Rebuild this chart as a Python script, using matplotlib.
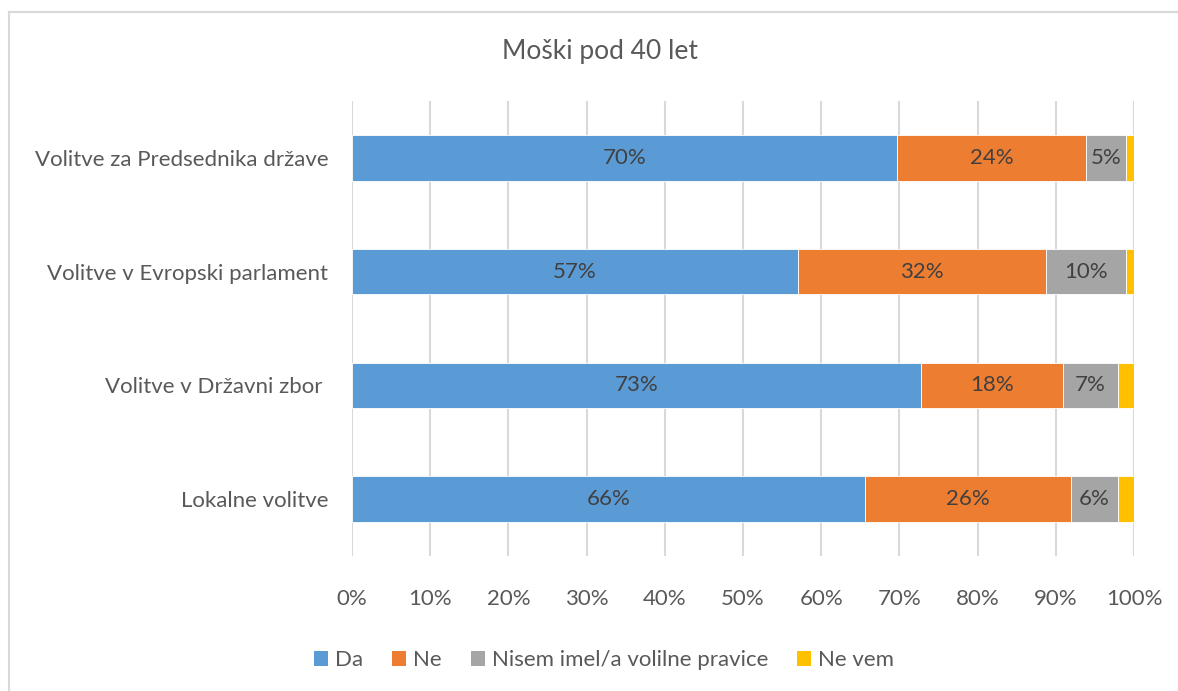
import matplotlib
matplotlib.use("Agg")
import matplotlib.pyplot as plt
from matplotlib.lines import Line2D
from matplotlib.patches import Patch

categories = ["Volitve za Predsednika države", "Volitve v Evropski parlament",
              "Volitve v Državni zbor ", "Lokalne volitve"]
series_names = ["Da", "Ne", "Nisem imel/a volilne pravice", "Ne vem"]
da = [69.7, 57.0, 72.7, 65.6]
ne = [24.2, 31.7, 18.2, 26.3]
nisem = [5.1, 10.3, 7.1, 6.1]
ne_vem = [1.0, 1.0, 2.0, 2.0]
label_da = ["70%", "57%", "73%", "66%"]
label_ne = ["24%", "32%", "18%", "26%"]
label_nisem = ["5%", "10%", "7%", "6%"]
xticks = [0, 10, 20, 30, 40, 50, 60, 70, 80, 90, 100]
xtick_labels = [f"{t}%" for t in xticks]
title = "Moški pod 40 let"

colors = ["#5B9BD5", "#ED7D31", "#A5A5A5", "#FFC000"]
text_color = "#595959"
plt.rcParams['font.family'] = ['Lato', 'DejaVu Sans']

W, H = 1178, 691
fig = plt.figure(figsize=(W / 100, H / 100), dpi=100)
ax = fig.add_axes([352 / W, (H - 556) / H, (1134 - 352) / W, (556 - 101) / H])

ypos = list(range(len(categories)))
series = [da, ne, nisem, ne_vem]
labels = [label_da, label_ne, label_nisem, None]
left = [0.0] * len(categories)
for vals, col, labs in zip(series, colors, labels):
    ax.barh(ypos, vals, left=left, height=0.4, color=col,
            edgecolor="white", linewidth=0.6, zorder=3)
    if labs is not None:
        for i, (l, v) in enumerate(zip(left, vals)):
            ax.text(l + v / 2, ypos[i], labs[i], ha="center", va="center",
                    fontsize=16, color="#404040", zorder=4)
    left = [a + b for a, b in zip(left, vals)]

ax.set_xlim(0, 100)
ax.set_ylim(len(categories) - 0.5, -0.5)
ax.set_xticks(xticks)
ax.set_xticklabels(xtick_labels, fontsize=16, color=text_color)
ax.set_yticks(ypos)
ax.set_yticklabels(categories, fontsize=16, color=text_color)
ax.tick_params(axis="both", length=0)
ax.tick_params(axis="x", pad=24)
ax.tick_params(axis="y", pad=17)
ax.grid(axis="x", color="#D9D9D9", linewidth=1.5, zorder=0)
ax.set_axisbelow(True)
for s in ax.spines.values():
    s.set_visible(False)

fig.text(600 / W, 1 - 52 / H, title, ha="center", va="center",
         fontsize=19, color=text_color)

handles = [Patch(facecolor=c, edgecolor="none") for c in colors]
fig.legend(handles, series_names, loc="center", bbox_to_anchor=(604 / W, 1 - 660 / H),
           ncol=4, frameon=False, fontsize=16, handlelength=0.65, handleheight=0.65,
           handletextpad=0.3, columnspacing=1.3, labelcolor=text_color)

# chart area border
bc = "#D9D9D9"
fig.add_artist(Line2D([8.5 / W, 8.5 / W], [0, 1 - 11.5 / H], transform=fig.transFigure, color=bc, linewidth=1.5))
fig.add_artist(Line2D([8.5 / W, 1], [1 - 11.5 / H, 1 - 11.5 / H], transform=fig.transFigure, color=bc, linewidth=1.5))

fig.savefig("out.png", dpi=100)
